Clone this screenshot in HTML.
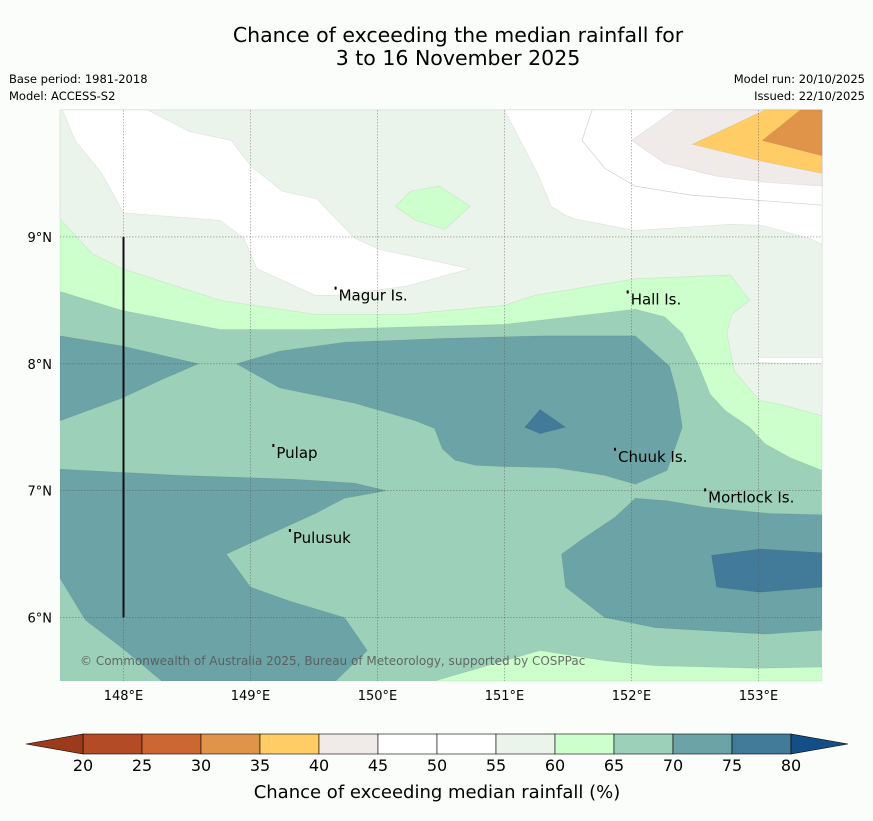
<!DOCTYPE html>
<html><head><meta charset="utf-8"><style>
body{margin:0;background:#fbfdfb;font-family:"Liberation Sans","DejaVu Sans",sans-serif;}
svg text{font-family:"DejaVu Sans","Liberation Sans",sans-serif;}
</style></head><body>
<svg id="c" width="873" height="816" xmlns="http://www.w3.org/2000/svg">
<rect width="873" height="816" fill="#fbfdfb"/>
<text x="458" y="42" font-size="20.5" text-anchor="middle" fill="#000">Chance of exceeding the median rainfall for</text>
<text x="458" y="65" font-size="20.5" text-anchor="middle" fill="#000">3 to 16 November 2025</text>
<text x="9" y="83" font-size="11.5">Base period: 1981-2018</text>
<text x="9" y="100" font-size="11.5">Model: ACCESS-S2</text>
<text x="865" y="83" font-size="11.5" text-anchor="end">Model run: 20/10/2025</text>
<text x="865" y="100" font-size="11.5" text-anchor="end">Issued: 22/10/2025</text>
<g id="map"></g>
<g id="cb"></g>
<text x="437" y="798" font-size="18" text-anchor="middle">Chance of exceeding median rainfall (%)</text>
</svg>
<script>
const lonTicks=[148,149,150,151,152,153];
const latTicks=[6,7,8,9];
const cbLevels=[20,25,30,35,40,45,50,55,60,65,70,75,80];
const cbColors=["#b34b26","#cc6633","#e0944a","#ffcc66","#f0ebe8","#ffffff","#ffffff","#eaf4ea","#ccffcc","#9dd0b8","#6ca3a6","#417b99"];
const regionNames=["band-60-65","band-55-60","white-strip","lobe-45-55-west","area-45-55-east","band-40-45","band-35-40","band-30-35","blob-60-65","wedge-70-75-west","area-70-75-central","blob-75-80-central","area-70-75-southwest","area-70-75-southeast","blob-75-80-southeast","band-60-65-south"];
const regionFills=["#ccffcc","#eaf4ea","#ffffff","#ffffff","#ffffff","#f0ebe8","#ffcc66","#e0944a","#ccffcc","#6ca3a6","#6ca3a6","#417b99","#6ca3a6","#6ca3a6","#417b99","#ccffcc"];
const regions=[
[[147.5,10],[153.5,10],[153.5,7.16],[153.25,7.26],[153.05,7.37],[152.93,7.5],[152.74,7.63],[152.62,7.76],[152.52,8.01],[152.40,8.24],[152.26,8.37],[152.03,8.43],[151.0,8.31],[149.51,8.27],[148.76,8.27],[147.99,8.42],[147.5,8.57]],
[[147.5,10],[153.5,10],[153.5,7.59],[153.17,7.68],[153.01,7.71],[152.81,7.94],[152.75,8.24],[152.79,8.39],[152.93,8.5],[152.78,8.70],[152.03,8.67],[151.24,8.54],[151.0,8.46],[150.22,8.39],[149.51,8.39],[148.76,8.5],[147.99,8.75],[147.75,8.87],[147.5,9.14]],
[[152.99,8.05],[153.5,8.05],[153.5,8.0],[152.99,8.01]],
[[147.52,10],[148.19,10],[148.52,9.83],[148.85,9.76],[149.0,9.56],[149.25,9.36],[149.52,9.30],[149.82,8.99],[150.02,8.90],[150.73,8.75],[150.22,8.61],[149.67,8.54],[149.51,8.54],[149.05,8.75],[148.95,8.99],[148.76,9.13],[148.0,9.19],[147.83,9.50],[147.62,9.76]],
[[151.0,10],[151.26,9.50],[151.37,9.24],[151.48,9.17],[151.56,9.14],[152.03,9.05],[152.78,9.10],[153.03,9.09],[153.4,8.99],[153.5,8.94],[153.5,10]],
[[152.0,9.76],[152.34,10],[153.5,10],[153.5,9.40],[153.05,9.43],[152.66,9.48],[152.26,9.58]],
[[152.48,9.73],[153.05,10],[153.5,10],[153.5,9.50],[153.01,9.60]],
[[153.03,9.76],[153.33,10],[153.5,10],[153.5,9.64]],
[[150.14,9.24],[150.26,9.36],[150.49,9.40],[150.73,9.24],[150.53,9.06],[150.30,9.13]],
[[147.5,8.22],[147.99,8.14],[148.59,8.0],[148.29,7.87],[147.99,7.73],[147.5,7.55]],
[[148.89,8.0],[149.23,8.10],[149.74,8.17],[150.53,8.20],[151.28,8.22],[152.03,8.22],[152.30,7.98],[152.36,7.76],[152.40,7.5],[152.28,7.16],[152.03,7.05],[151.79,7.12],[151.40,7.18],[151.0,7.19],[150.77,7.20],[150.61,7.24],[150.51,7.33],[150.45,7.49],[150.30,7.55],[149.82,7.69],[149.23,7.81]],
[[151.16,7.50],[151.28,7.64],[151.48,7.50],[151.28,7.45]],
[[147.5,7.17],[148.44,7.12],[149.35,7.09],[149.82,7.06],[150.07,7.0],[149.74,6.94],[149.51,6.82],[148.81,6.50],[149.0,6.24],[149.31,6.13],[149.74,6.0],[149.92,5.74],[149.67,5.5],[148.30,5.5],[147.99,5.76],[147.70,5.98],[147.5,6.31]],
[[152.03,6.94],[152.28,6.92],[152.58,6.87],[153.09,6.82],[153.5,6.81],[153.5,5.90],[153.05,5.87],[152.19,5.92],[151.79,6.0],[151.48,6.24],[151.45,6.50],[151.63,6.63],[151.87,6.79]],
[[152.63,6.49],[153.01,6.54],[153.5,6.51],[153.5,6.24],[153.01,6.20],[152.67,6.24]],
[[150.45,5.5],[151.28,5.74],[151.79,5.66],[152.19,5.62],[152.99,5.60],[153.5,5.61],[153.5,5.5]]
];
const innerLine=[[151.69,10],[151.61,9.76],[151.79,9.54],[152.03,9.40],[152.46,9.33],[153.5,9.25]];
const placeNames=["Magur Is.","Hall Is.","Pulap","Chuuk Is.","Mortlock Is.","Pulusuk"];
const placeLon=[149.67,151.97,149.18,151.87,152.58,149.31];
const placeLat=[8.60,8.57,7.36,7.33,7.01,6.69];

const NS="http://www.w3.org/2000/svg";
const X0=60,X1=822,Y0=110,Y1=681,LON0=147.5,LON1=153.5,LAT0=5.5,LAT1=10;
function xs(l){return X0+(l-LON0)/(LON1-LON0)*(X1-X0);}
function ys(a){return Y0+(LAT1-a)/(LAT1-LAT0)*(Y1-Y0);}
function mk(t,p,at){const e=document.createElementNS(NS,t);for(const k in at)e.setAttribute(k,at[k]);p.appendChild(e);return e;}
const map=document.getElementById('map');
const base=mk('rect',map,{x:X0,y:Y0,width:X1-X0,height:Y1-Y0,fill:"#9dd0b8"});


regions.forEach((r,i)=>{
 const p=mk('polygon',map,{points:r.map(q=>xs(q[0]).toFixed(1)+","+ys(q[1]).toFixed(1)).join(" "),fill:regionFills[i],stroke:"rgba(0,0,0,0.08)","stroke-width":0.7});
 
 
});
const il=mk('polyline',map,{points:innerLine.map(q=>xs(q[0])+","+ys(q[1])).join(" "),fill:"none",stroke:"#cfcfcf","stroke-width":0.7});


lonTicks.forEach(l=>{
 const g=mk('line',map,{x1:xs(l),x2:xs(l),y1:Y0,y2:Y1,stroke:"#555","stroke-width":0.6,"stroke-dasharray":"1.5,1.5","stroke-opacity":0.7});
 
 
 const t=mk('text',map,{x:xs(l),y:700,"font-size":13,"text-anchor":"middle"});t.textContent=l+"°E";
 
 
});
latTicks.forEach(a=>{
 const g=mk('line',map,{x1:X0,x2:X1,y1:ys(a),y2:ys(a),stroke:"#555","stroke-width":0.6,"stroke-dasharray":"1.5,1.5","stroke-opacity":0.7});
 
 
 const t=mk('text',map,{x:52,y:ys(a)+5,"font-size":13,"text-anchor":"end"});t.textContent=a+"°N";
 
 
});
const bl=mk('line',map,{x1:xs(148),x2:xs(148),y1:ys(9),y2:ys(6),stroke:"#111","stroke-width":2});


placeNames.forEach((n,i)=>{
 const t=mk('text',map,{x:xs(placeLon[i])+3,y:ys(placeLat[i])+13,"font-size":15});t.textContent=n;
 
 
 const d=mk('rect',map,{x:xs(placeLon[i])-1,y:ys(placeLat[i])-1,width:2,height:3,fill:"#000"});
 
 
});
const cr=mk('text',map,{x:80,y:665,"font-size":12,fill:"#555","fill-opacity":0.85});cr.textContent="© Commonwealth of Australia 2025, Bureau of Meteorology, supported by COSPPac";



const cb=document.getElementById('cb');
const CX0=83,CX1=791,CY=734,CH=20;
function cx(v){return CX0+(v-cbLevels[0])/(cbLevels[cbLevels.length-1]-cbLevels[0])*(CX1-CX0);}
cbColors.forEach((c,i)=>{
 const r=mk('rect',cb,{x:cx(cbLevels[i]),y:CY,width:cx(cbLevels[i+1])-cx(cbLevels[i]),height:CH,fill:c,stroke:"#000","stroke-width":0.6});
 
 
});
const lt=mk('polygon',cb,{points:`26,${CY+CH/2} ${CX0},${CY} ${CX0},${CY+CH}`,fill:"#9c3a1c",stroke:"#000","stroke-width":0.6});


const rt=mk('polygon',cb,{points:`848,${CY+CH/2} ${CX1},${CY} ${CX1},${CY+CH}`,fill:"#134e86",stroke:"#000","stroke-width":0.6});


cbLevels.forEach(v=>{
 const t=mk('text',cb,{x:cx(v),y:771,"font-size":16,"text-anchor":"middle"});t.textContent=v;
 
 
});
</script>
</body></html>
